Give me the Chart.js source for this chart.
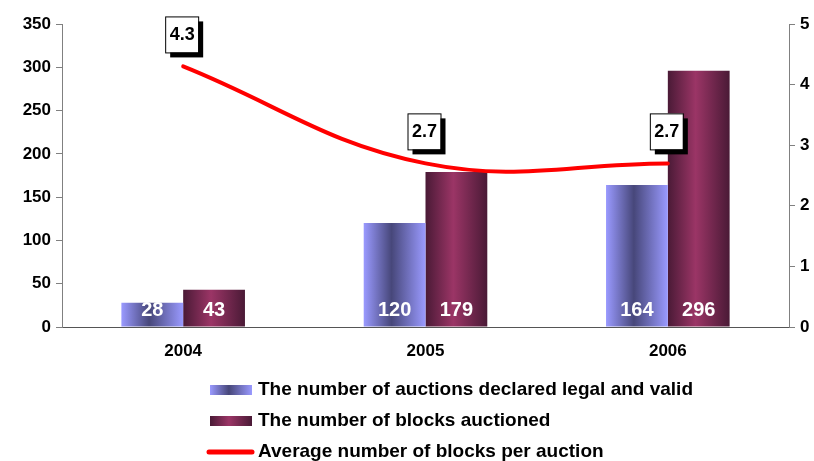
<!DOCTYPE html>
<html>
<head>
<meta charset="utf-8">
<script src="https://cdn.jsdelivr.net/npm/chart.js@4.4.1/dist/chart.umd.min.js"></script>
<style>
  html, body { margin: 0; padding: 0; background: #fff; }
  #wrap { width: 814px; height: 461px; }
</style>
</head>
<body>
<div id="wrap"><canvas id="chart" width="814" height="461"></canvas></div>
<script>
// Chart data
const years = ['2004', '2005', '2006'];
const auctionsValid = [28, 120, 164];
const blocksAuctioned = [43, 179, 296];
const avgBlocks = [4.3, 2.7, 2.7];

const seriesNames = [
    'The number of auctions declared legal and valid',
    'The number of blocks auctioned',
    'Average number of blocks per auction'
];

const FONT = '"Liberation Sans", Arial, sans-serif';

// horizontal "cylinder" gradient for a bar
function barGradient(ctx, x0, x1, edge, mid) {
    const g = ctx.createLinearGradient(x0, 0, x1, 0);
    g.addColorStop(0, edge);
    g.addColorStop(0.45, mid);
    g.addColorStop(1, edge);
    return g;
}
const barColors = [
    { edge: '#9a9aff', mid: '#47477a' },
    { edge: '#4a1a36', mid: '#9b3566' }
];

// give each bar its own options object with its own gradient
const gradientBars = {
    id: 'gradientBars',
    beforeDatasetsDraw(chart) {
        const ctx = chart.ctx;
        [0, 1].forEach(i => {
            chart.getDatasetMeta(i).data.forEach(bar => {
                const half = bar.width / 2;
                const opts = Object.assign({}, bar.options);
                opts.backgroundColor = barGradient(ctx, bar.x - half, bar.x + half,
                    barColors[i].edge, barColors[i].mid);
                bar.options = opts;
            });
        });
    }
};

// value labels inside bars + boxed labels above line points
const labels = {
    id: 'labels',
    afterDatasetsDraw(chart) {
        const ctx = chart.ctx;
        const bottom = chart.chartArea.bottom;
        ctx.save();
        ctx.font = 'bold 20px ' + FONT;
        ctx.fillStyle = '#fff';
        ctx.textAlign = 'center';
        ctx.textBaseline = 'middle';
        [0, 1].forEach(i => {
            const vals = chart.data.datasets[i].data;
            chart.getDatasetMeta(i).data.forEach((bar, j) => {
                ctx.fillText(vals[j], bar.x, bottom - 17);
            });
        });

        ctx.font = 'bold 18px ' + FONT;
        chart.getDatasetMeta(2).data.forEach((pt, j) => {
            const w = 33, h = 36;
            const bx = pt.x - 18, by = pt.y - 50;
            ctx.fillStyle = '#000';
            ctx.fillRect(bx + 5, by + 5, w, h);
            ctx.fillStyle = '#fff';
            ctx.fillRect(bx, by, w, h);
            ctx.strokeStyle = '#000';
            ctx.lineWidth = 1;
            ctx.strokeRect(bx + 0.5, by + 0.5, w, h);
            ctx.fillStyle = '#000';
            ctx.fillText(avgBlocks[j].toFixed(1), bx + w / 2 + 0.5, by + h / 2 + 1);
        });
        ctx.restore();
    }
};

// legend at the bottom, drawn by hand
const bottomLegend = {
    id: 'bottomLegend',
    afterDraw(chart) {
        const ctx = chart.ctx;
        ctx.save();
        ctx.font = 'bold 19px ' + FONT;
        ctx.textBaseline = 'middle';
        ctx.textAlign = 'left';
        const rows = [390, 421, 452];
        [0, 1].forEach(i => {
            ctx.fillStyle = barGradient(ctx, 210, 252, barColors[i].edge, barColors[i].mid);
            ctx.fillRect(210, rows[i] - 5, 42, 10);
        });
        ctx.strokeStyle = '#ff0000';
        ctx.lineWidth = 5;
        ctx.lineCap = 'round';
        ctx.beginPath();
        ctx.moveTo(209, rows[2]);
        ctx.lineTo(252, rows[2]);
        ctx.stroke();
        ctx.fillStyle = '#000';
        seriesNames.forEach((name, i) => ctx.fillText(name, 258, rows[i]));
        ctx.restore();
    }
};

const tickFont = { family: FONT, size: 17, weight: 'bold' };

new Chart(document.getElementById('chart'), {
    data: {
        labels: years,
        datasets: [
            {
                type: 'bar',
                label: seriesNames[0],
                data: auctionsValid,
                yAxisID: 'y',
                categoryPercentage: 0.51,
                barPercentage: 1,
                order: 2
            },
            {
                type: 'bar',
                label: seriesNames[1],
                data: blocksAuctioned,
                yAxisID: 'y',
                categoryPercentage: 0.51,
                barPercentage: 1,
                order: 2
            },
            {
                type: 'line',
                label: seriesNames[2],
                data: avgBlocks,
                yAxisID: 'y2',
                borderColor: '#ff0000',
                borderWidth: 4,
                borderCapStyle: 'round',
                pointRadius: 0,
                tension: 0.4,
                order: 1
            }
        ]
    },
    options: {
        responsive: false,
        animation: false,
        layout: { padding: { top: 24, bottom: 94, left: 0, right: 0 } },
        plugins: {
            legend: { display: false },
            tooltip: { enabled: false }
        },
        scales: {
            x: {
                grid: { display: false },
                border: { color: '#555', width: 1 },
                ticks: { color: '#000', font: tickFont, padding: 6 },
                afterFit: s => { s.height = 40; }
            },
            y: {
                position: 'left',
                min: 0, max: 350,
                ticks: { stepSize: 50, color: '#000', font: tickFont, padding: 5 },
                grid: { drawOnChartArea: false, tickLength: 6, color: '#808080' },
                border: { color: '#808080', width: 1 },
                afterFit: s => { s.width = 62; }
            },
            y2: {
                position: 'right',
                min: 0, max: 5,
                ticks: { stepSize: 1, color: '#000', font: tickFont, padding: 5 },
                grid: { drawOnChartArea: false, tickLength: 6, color: '#808080' },
                border: { color: '#808080', width: 1 },
                afterFit: s => { s.width = 25; }
            }
        }
    },
    plugins: [gradientBars, labels, bottomLegend]
});
</script>
</body>
</html>
